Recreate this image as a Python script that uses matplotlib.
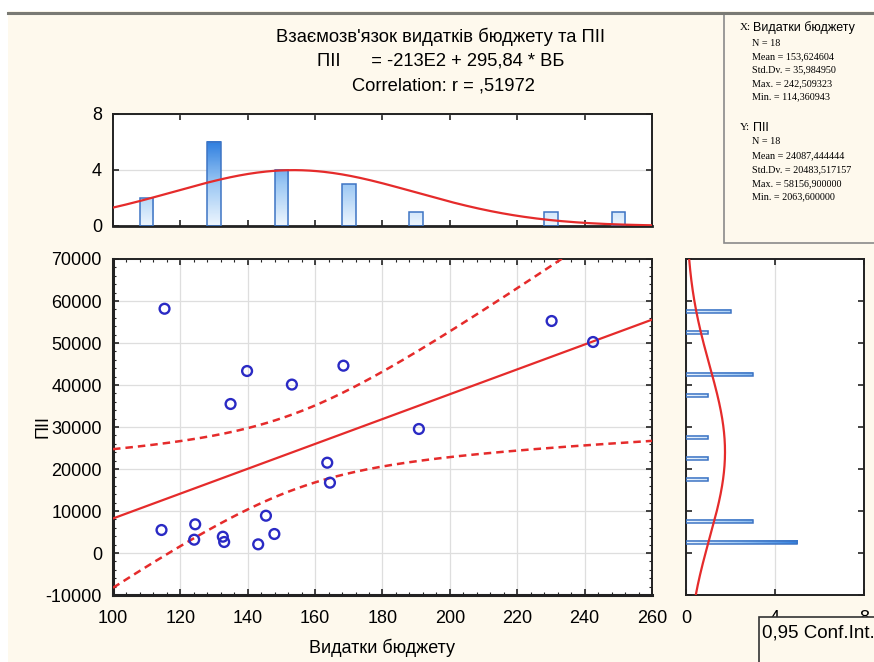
import numpy as np
import matplotlib
matplotlib.use("Agg")
import matplotlib.pyplot as plt
from matplotlib.colors import LinearSegmentedColormap
from matplotlib.patches import Rectangle
from matplotlib.lines import Line2D
from matplotlib.ticker import MultipleLocator

# points: budget spending (x) vs FDI (y)
budget = [115.3, 139.8, 153.1, 168.4, 134.9, 190.8, 163.6, 164.4, 145.4,
          114.4, 124.4, 124.1, 132.6, 133.0, 147.9, 143.1, 230.2, 242.5]
fdi = [58157, 43333, 40100, 44600, 35476, 29524, 21500, 16740, 8880,
       5476, 6833, 3170, 3880, 2619, 4524, 2064, 55238, 50238]

# summary stats printed on the chart
n_obs = 18
x_mean, x_sd, x_max, x_min = 153.624604, 35.984950, 242.509323, 114.360943
y_mean, y_sd, y_max, y_min = 24087.444444, 20483.517157, 58156.9, 2063.6
slope = 295.84
r_corr = 0.51972
t_crit = 2.1199  # t(0.975, 16)

x_bins = np.arange(100, 261, 20)
y_bins = np.arange(0, 60001, 5000)

plt.rcParams['font.family'] = ['Liberation Sans', 'DejaVu Sans']
plt.rcParams['axes.unicode_minus'] = False

bg = '#fef9ed'
red = '#e52b2b'
blue = '#2a2ac4'
grid_c = '#dedede'
cmap = LinearSegmentedColormap.from_list('bars', ['#eef6fe', '#9cc8f4', '#2f7fe0'])

fig = plt.figure(figsize=(8.74, 6.62), dpi=100, facecolor=bg)
W, H = 874, 662


def box(l, t, r, b):
    return [l / W, 1 - b / H, (r - l) / W, (b - t) / H]


ax = fig.add_axes(box(113, 259, 652, 595))
axt = fig.add_axes(box(113, 114, 652, 226))
axr = fig.add_axes(box(686, 259, 864, 595))

for a in (ax, axt, axr):
    a.set_facecolor('white')
    for s in a.spines.values():
        s.set_linewidth(1.4)
        s.set_color('#222222')
    a.tick_params(direction='in', which='both', top=True, right=True,
                  labelsize=13, color='#222222')
    a.tick_params(which='major', length=4, width=1.2)
    a.tick_params(which='minor', length=2, width=0.8)
    a.set_axisbelow(True)
ax.spines['left'].set_linewidth(2.2)
ax.spines['bottom'].set_linewidth(2.2)
axt.spines['bottom'].set_linewidth(2.0)

# main scatter
intercept = y_mean - slope * x_mean
xs = np.linspace(100, 260, 300)
fit = intercept + slope * xs
s_res = y_sd * np.sqrt((1 - r_corr ** 2) * (n_obs - 1) / (n_obs - 2))
sxx = (n_obs - 1) * x_sd ** 2
half = t_crit * s_res * np.sqrt(1.0 / n_obs + (xs - x_mean) ** 2 / sxx)

ax.plot(xs, fit, color=red, lw=1.6, zorder=3)
ax.plot(xs, fit + half, color=red, lw=1.8, ls=(0, (3, 2)), zorder=3)
ax.plot(xs, fit - half, color=red, lw=1.8, ls=(0, (3, 2)), zorder=3)
ax.scatter(budget, fdi, s=50, facecolors='none', edgecolors=blue, linewidths=1.7, zorder=4)

ax.set_xlim(100, 260)
ax.set_ylim(-10000, 70000)
ax.xaxis.set_major_locator(MultipleLocator(20))
ax.xaxis.set_minor_locator(MultipleLocator(4))
ax.yaxis.set_major_locator(MultipleLocator(10000))
ax.yaxis.set_minor_locator(MultipleLocator(2000))
ax.grid(True, which='major', color=grid_c, lw=0.9)
ax.tick_params(axis='x', pad=11)
ax.tick_params(axis='y', pad=8)
ax.set_xlabel('Видатки бюджету', fontsize=13, labelpad=8)
ax.set_ylabel('ПІІ', fontsize=13, labelpad=-4)


def vbar(a, x, h, w, hmax):
    grad = np.linspace(0, h / hmax, 64).reshape(-1, 1)
    a.imshow(grad, extent=[x - w / 2, x + w / 2, 0, h], origin='lower',
             cmap=cmap, vmin=0, vmax=1, aspect='auto', zorder=2)
    a.add_patch(Rectangle((x - w / 2, 0), w, h, fill=False, ec='#3d74c4', lw=1.1, zorder=3))


def hbar(a, y, v, h, vmax):
    grad = np.linspace(0, v / vmax, 64).reshape(1, -1)
    a.imshow(grad, extent=[0, v, y - h / 2, y + h / 2], origin='lower',
             cmap=cmap, vmin=0, vmax=1, aspect='auto', zorder=2)
    a.add_patch(Rectangle((0, y - h / 2), v, h, fill=False, ec='#3d74c4', lw=1.1, zorder=3))


# top histogram (x)
cx, _ = np.histogram(budget, bins=x_bins)
xc = (x_bins[:-1] + x_bins[1:]) / 2
for c, k in zip(xc, cx):
    if k > 0:
        vbar(axt, c, k, 4, 6)
bw_x = x_bins[1] - x_bins[0]
pdf_x = n_obs * bw_x * np.exp(-0.5 * ((xs - x_mean) / x_sd) ** 2) / (x_sd * np.sqrt(2 * np.pi))
axt.plot(xs, pdf_x, color=red, lw=1.6, zorder=4)
axt.set_xlim(100, 260)
axt.set_ylim(0, 8)
axt.xaxis.set_major_locator(MultipleLocator(20))
axt.yaxis.set_major_locator(MultipleLocator(4))
axt.tick_params(axis='x', labelbottom=False)
axt.tick_params(axis='y', pad=8)
axt.grid(True, axis='y', color=grid_c, lw=0.9)

# right histogram (y)
cy, _ = np.histogram(fdi, bins=y_bins)
yc = (y_bins[:-1] + y_bins[1:]) / 2
for c, k in zip(yc, cy):
    if k > 0:
        hbar(axr, c, k, 950, 5)
ys = np.linspace(-10000, 70000, 300)
bw_y = y_bins[1] - y_bins[0]
pdf_y = n_obs * bw_y * np.exp(-0.5 * ((ys - y_mean) / y_sd) ** 2) / (y_sd * np.sqrt(2 * np.pi))
axr.plot(pdf_y, ys, color=red, lw=1.6, zorder=4)
axr.set_xlim(0, 8)
axr.set_ylim(-10000, 70000)
axr.xaxis.set_major_locator(MultipleLocator(4))
axr.yaxis.set_major_locator(MultipleLocator(10000))
axr.tick_params(axis='y', labelleft=False)
axr.tick_params(axis='x', pad=11)
axr.grid(True, axis='x', color=grid_c, lw=0.9)

# titles
fig.text(441 / W, 1 - 37 / H, "Взаємозв'язок видатків бюджету та ПІІ", ha='center', va='center', fontsize=13.2)
fig.text(441 / W, 1 - 61 / H, "ПІІ      = -213E2 + 295,84 * ВБ", ha='center', va='center', fontsize=13.2)
fig.text(443 / W, 1 - 86 / H, "Correlation: r = ," + f"{r_corr:.5f}"[2:], ha='center', va='center', fontsize=13.2)

# frame decorations
fig.patches.append(Rectangle((0, 1 - 11 / H), 1, 11 / H, transform=fig.transFigure,
                             fc='white', ec='none', zorder=0))
fig.patches.append(Rectangle((0, 0), 8 / W, 1, transform=fig.transFigure,
                             fc='white', ec='none', zorder=0))
fig.lines.append(Line2D([8 / W, 1], [1 - 12.5 / H, 1 - 12.5 / H], transform=fig.transFigure,
                        color='#7a7a74', lw=2.2))

# stats box
fig.patches.append(Rectangle((724 / W, 1 - 243 / H), 200 / W, 230 / H, transform=fig.transFigure,
                             fc=bg, ec='#8a8a8a', lw=1.2, zorder=1))


def num(v):
    return f"{v:.6f}".replace('.', ',')


fig.text(740 / W, 1 - 28 / H, "X:", fontsize=8, family='Liberation Serif', va='center')
fig.text(753 / W, 1 - 28 / H, "Видатки бюджету", fontsize=9, va='center')
x_lines = [f"N = {n_obs}", f"Mean = {num(x_mean)}", f"Std.Dv. = {num(x_sd)}",
           f"Max. = {num(x_max)}", f"Min. = {num(x_min)}"]
for i, t in enumerate(x_lines):
    fig.text(752 / W, 1 - (43 + 13.5 * i) / H, t, fontsize=7.3, family='Liberation Serif', va='center')
fig.text(740 / W, 1 - 128 / H, "Y:", fontsize=8, family='Liberation Serif', va='center')
fig.text(753 / W, 1 - 128 / H, "ПІІ", fontsize=9, va='center')
y_lines = [f"N = {n_obs}", f"Mean = {num(y_mean)}", f"Std.Dv. = {num(y_sd)}",
           f"Max. = {num(y_max)}", f"Min. = {num(y_min)}"]
for i, t in enumerate(y_lines):
    fig.text(752 / W, 1 - (142 + 13.8 * i) / H, t, fontsize=7.3, family='Liberation Serif', va='center')

# confidence legend box
fig.patches.append(Rectangle((759 / W, -0.01), 200 / W, (662 - 617) / H + 0.01, transform=fig.transFigure,
                             fc=bg, ec='#333333', lw=1.2, zorder=5))
fig.text(762 / W, 1 - 633 / H, "0,95 Conf.Int.", fontsize=13.5, va='center', zorder=6)

fig.savefig('out.png', dpi=100, facecolor=bg)
